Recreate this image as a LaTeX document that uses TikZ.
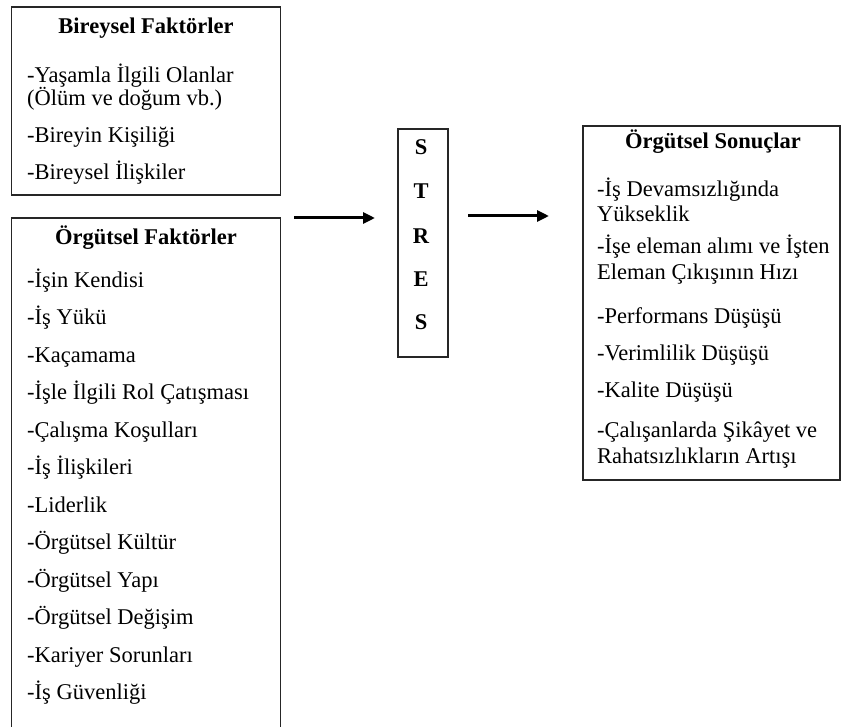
\documentclass[tikz,border=0pt]{standalone}
\usepackage{fontspec}
\setmainfont{Liberation Serif}
\usetikzlibrary{arrows.meta}
\begin{document}
\begin{tikzpicture}[x=1pt,y=-1pt,
  box/.style={draw=black!85, line width=1.7pt, inner sep=0pt},
  thinbox/.style={draw=black!85, line width=1.2pt, inner sep=0pt},
  item/.style={anchor=base west, inner sep=0pt, font=\fontsize{22.5}{25}\selectfont},
  title/.style={anchor=base, inner sep=0pt, font=\fontsize{22.5}{25}\selectfont\bfseries},
  letter/.style={anchor=base, inner sep=0pt, font=\fontsize{22.5}{25}\selectfont\bfseries},
  flow/.style={line width=3pt, -{Triangle[length=12pt,width=11pt]}}]
\fill[white] (0,0) rectangle (842,727);
\useasboundingbox (0,0) rectangle (842,727);

% Box 1: Bireysel Faktorler
\node[box, minimum width=269pt, minimum height=188pt] (bireysel) at (146,101) {};
\node[title] (t1) at (146,34) {Bireysel Faktörler};
\node[item] (b1a) at (27,83) {-Yaşamla İlgili Olanlar};
\node[item] (b1b) at (27,106) {(Ölüm ve doğum vb.)};
\node[item] (b2) at (27,143) {-Bireyin Kişiliği};
\node[item] (b3) at (27,180) {-Bireysel İlişkiler};

% Box 2: Orgutsel Faktorler (open at the bottom)
\draw[draw=black!85, line width=1.7pt] (11.5,727) -- (11.5,218) -- (280.5,218) -- (280.5,727);
\coordinate (orgutsel) at (146,470);
\node[title] (t2) at (146,244) {Örgütsel Faktörler};
\node[item] (o1) at (27,287) {-İşin Kendisi};
\node[item] (o2) at (27,324.5) {-İş Yükü};
\node[item] (o3) at (27,362) {-Kaçamama};
\node[item] (o4) at (27,399.5) {-İşle İlgili Rol Çatışması};
\node[item] (o5) at (27,437) {-Çalışma Koşulları};
\node[item] (o6) at (27,474.5) {-İş İlişkileri};
\node[item] (o7) at (27,512) {-Liderlik};
\node[item] (o8) at (27,549.5) {-Örgütsel Kültür};
\node[item] (o9) at (27,587) {-Örgütsel Yapı};
\node[item] (o10) at (27,624.5) {-Örgütsel Değişim};
\node[item] (o11) at (27,662) {-Kariyer Sorunları};
\node[item] (o12) at (27,699.5) {-İş Güvenliği};

% STRES box
\node[thinbox, minimum width=50pt, minimum height=228pt] (stres) at (423,243) {};
\node[letter] (s1) at (421,155) {S};
\node[letter] (s2) at (421,199) {T};
\node[letter] (s3) at (421,243) {R};
\node[letter] (s4) at (421,286) {E};
\node[letter] (s5) at (421,329) {S};

% Right box: Orgutsel Sonuclar
\node[box, line width=1.5pt, minimum width=257pt, minimum height=354pt] (sonuc) at (711.5,303) {};
\node[title] (t3) at (713,149) {Örgütsel Sonuçlar};
\node[item] (r1a) at (597,197) {-İş Devamsızlığında};
\node[item] (r1b) at (597,222) {Yükseklik};
\node[item] (r2a) at (597,253) {-İşe eleman alımı ve İşten};
\node[item] (r2b) at (597,279) {Eleman Çıkışının Hızı};
\node[item] (r3) at (597,323) {-Performans Düşüşü};
\node[item] (r4) at (597,360) {-Verimlilik Düşüşü};
\node[item] (r5) at (597,397) {-Kalite Düşüşü};
\node[item] (r6a) at (597,437) {-Çalışanlarda Şikâyet ve};
\node[item] (r6b) at (597,463) {Rahatsızlıkların Artışı};

% Arrows
\coordinate (a1s) at (294,218);
\coordinate (a1e) at (375,218);
\coordinate (a2s) at (468,216);
\coordinate (a2e) at (549,216);
\draw[flow] (a1s) -- (a1e);
\draw[flow] (a2s) -- (a2e);
\end{tikzpicture}
\end{document}
